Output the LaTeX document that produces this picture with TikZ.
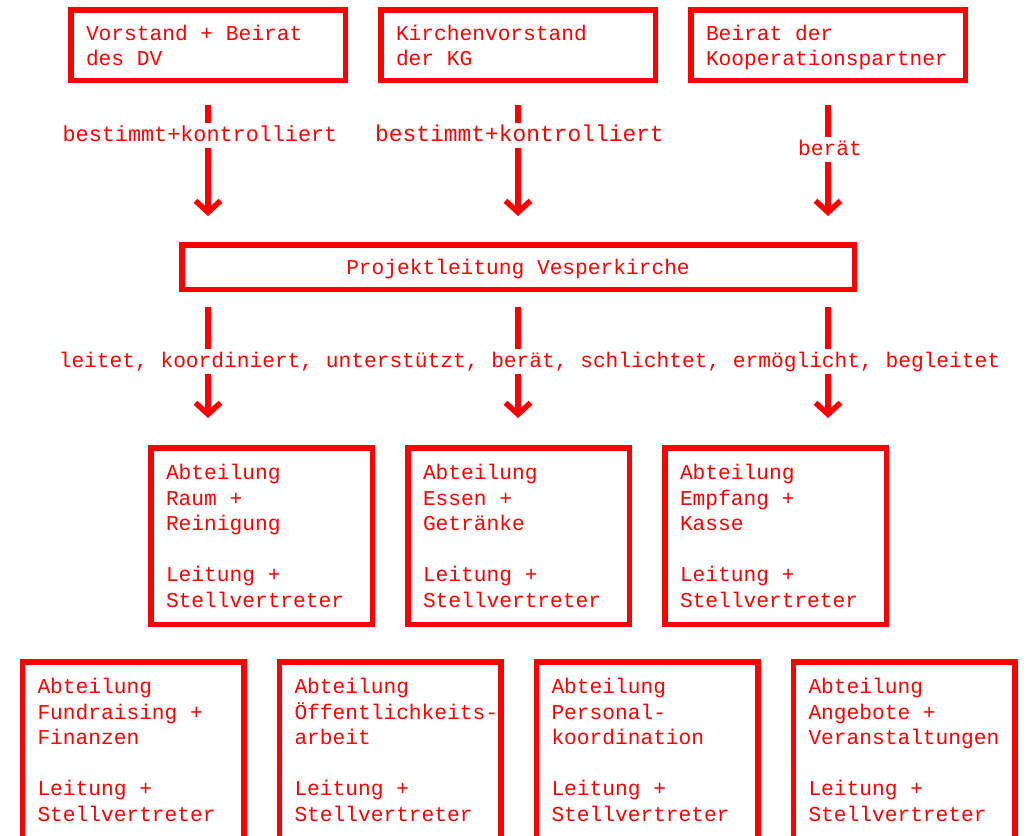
\documentclass[tikz,border=0pt]{standalone}
\usepackage{fontspec}
\newfontfamily\orgmono{Liberation Mono}[HyphenChar=None]
\usetikzlibrary{arrows.meta}
\newcommand{\orgfont}{\orgmono\fontsize{21.2}{25.5}\selectfont}
\newcommand{\topstrut}{\rule{0pt}{21pt}}
\newcommand{\botstrut}{\rule[-5.5pt]{0pt}{0pt}}
\tikzset{
  orgbox/.style={draw=red, line width=5.5pt, outer sep=0pt, inner xsep=15.25pt,
    inner ysep=0pt, align=left, text=red, font=\orgfont,
    execute at begin node={\spaceskip=0pt\xspaceskip=0pt\relax}},
  topbox/.style={orgbox, minimum width=274.5pt, minimum height=70.5pt, text width=244pt},
  deptbox/.style={orgbox, minimum width=221.5pt, minimum height=176.5pt, text width=191pt},
  leadbox/.style={draw=red, line width=5.5pt, outer sep=0pt, text=red, font=\orgfont,
    minimum width=672.5pt, minimum height=44.5pt, text height=15.5pt, text depth=0pt},
  lbl/.style={fill=white, text=red, font=\orgfont, inner xsep=1pt, inner ysep=4pt,
    text height=14pt, text depth=3pt, anchor=base},
  arr/.style={draw=red, line width=5.5pt,
    -{Straight Barb[sharp, length=11.5pt, width=25pt]}}
}
\begin{document}
\begin{tikzpicture}[x=1pt, y=-1pt]
\useasboundingbox (0,0) rectangle (1027,835);

% top row
\node[topbox] (b1) at (208,45) {\topstrut Vorstand + Beirat\\des DV\botstrut};
\node[topbox] (b2) at (518,45) {\topstrut Kirchenvorstand\\der KG\botstrut};
\node[topbox] (b3) at (828,45) {\topstrut Beirat der\\Kooperationspartner\botstrut};

% project lead
\node[leadbox] (pl) at (518,267) {Projektleitung Vesperkirche};

% department rows
\node[deptbox] (d1) at (261.5,536) {Abteilung\\Raum +\\Reinigung\\[25.5pt]Leitung +\\Stellvertreter};
\node[deptbox] (d2) at (518.5,536) {Abteilung\\Essen +\\Getränke\\[25.5pt]Leitung +\\Stellvertreter};
\node[deptbox] (d3) at (775.5,536) {Abteilung\\Empfang +\\Kasse\\[25.5pt]Leitung +\\Stellvertreter};

\node[deptbox] (e1) at (133,750) {Abteilung\\Fundraising +\\Finanzen\\[25.5pt]Leitung +\\Stellvertreter};
\node[deptbox] (e2) at (390,750) {Abteilung\\Öffentlichkeits-\\arbeit\\[25.5pt]Leitung +\\Stellvertreter};
\node[deptbox] (e3) at (647,750) {Abteilung\\Personal-\\koordination\\[25.5pt]Leitung +\\Stellvertreter};
\node[deptbox] (e4) at (904,750) {Abteilung\\Angebote +\\Veranstaltungen\\[25.5pt]Leitung +\\Stellvertreter};

% arrows top -> lead
\foreach \b in {b1,b2,b3}{
  \draw[arr, shorten <=24.75pt, shorten >=28.75pt] (\b.south) -- (\b.south |- pl.north);
}
% arrows lead -> departments
\draw[arr, shorten <=17.75pt, shorten >=29.75pt] (pl.south -| b1.south) -- (d1.north -| b1.south);
\draw[arr, shorten <=17.75pt, shorten >=29.75pt] (pl.south -| b2.south) -- (d2.north -| b2.south);
\draw[arr, shorten <=17.75pt, shorten >=29.75pt] (pl.south -| b3.south) -- (d3.north -| b3.south);

% labels
\node[lbl, font=\orgmono\fontsize{21.8}{25.5}\selectfont] (l1) at (200,141) {bestimmt+kontrolliert};
\node[lbl, font=\orgmono\fontsize{22.9}{25.5}\selectfont] (l2) at (519.5,141) {bestimmt+kontrolliert};
\node[lbl] (l3) at (830,155) {berät};
\node[lbl] (l4) at (529.5,367) {leitet, koordiniert, unterstützt, berät, schlichtet, ermöglicht, begleitet};
\end{tikzpicture}
\end{document}
